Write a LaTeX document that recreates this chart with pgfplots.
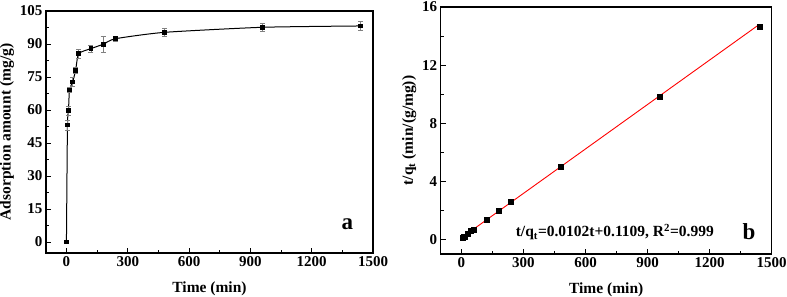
\documentclass[border=0pt]{standalone}
\usepackage{pgfplots}
\pgfplotsset{compat=1.18}
\usepackage{fontspec}
\setmainfont{Liberation Serif}
\begin{document}
\begin{tikzpicture}
\pgfplotsset{
  myax/.style={
    scale only axis,
    font=\fontsize{15.5}{18}\selectfont\bfseries,
    tick label style={font=\fontsize{15}{17}\selectfont\bfseries},
    /pgf/number format/assume math mode=true,
    /pgf/number format/1000 sep={},
    tick align=inside,
    xtick pos=bottom, ytick pos=left,
    major tick length=5pt, minor tick length=3pt,
    axis line style={line width=1.3pt},
    every tick/.style={line width=0.9pt, black},
    xmin=-100, xmax=1500,
    xtick={0,300,600,900,1200,1500},
    minor x tick num=1,
    minor y tick num=1,
    xlabel={Time (min)},
    scaled ticks=false,
    clip=false,
  }
}
% panel a
\begin{axis}[myax,
  at={(46pt,44pt)}, anchor=south west,
  width=327pt, height=242pt,
  ymin=-5, ymax=105,
  ytick={0,15,30,45,60,75,90,105},
  ylabel={Adsorption amount (mg/g)},
  xlabel style={yshift=-8pt},
  ylabel style={yshift=-1pt},
]
\addplot[black, line width=1pt, smooth, tension=0.35, mark=square*, mark size=1.8pt,
  error bars/.cd, y dir=both, y explicit,
  error bar style={gray, line width=0.6pt},
  error mark options={rotate=90, mark size=2.5pt, gray, line width=0.6pt}]
  table[x=t, y=q, y error=e] {
t q e
0 0 0
5 53.1 2.2
10 59.7 2.0
15 69.1 1.2
30 72.7 2.0
45 78.0 1.5
60 85.6 2.2
120 87.9 1.6
180 89.9 3.8
240 92.4 1.2
480 95.3 1.8
960 97.6 1.8
1440 98.2 2.0
};
\node[font=\fontsize{23}{25}\selectfont\bfseries] at (axis cs:1375,8) {a};
\end{axis}
% panel b
\begin{axis}[myax,
  at={(440.7pt,43pt)}, anchor=south west,
  width=331pt, height=247pt,
  ymin=-1, ymax=16,
  ytick={0,4,8,12,16},
  ylabel={t/q$_{\mathbf{t}}$ (min/(g/mg))},
  xlabel style={yshift=-8pt},
  ylabel style={yshift=-1pt},
]
\addplot[red, line width=0.9pt] coordinates {(5,0.162) (1440,14.80)};
\addplot[only marks, black, mark=square*, mark size=2.5pt] table[x=t, y=r] {
t r
5 0.094
10 0.168
15 0.217
30 0.413
45 0.577
60 0.701
120 1.365
180 2.00
240 2.60
480 5.04
960 9.84
1440 14.66
};
\node[font=\fontsize{15.5}{18}\selectfont\bfseries, anchor=west] at (axis cs:246,0.49) {t/q$_{\mathbf{t}}$=0.0102t+0.1109, R$^{\mathbf{2}}$=0.999};
\node[font=\fontsize{23}{25}\selectfont\bfseries] at (axis cs:1390,0.55) {b};
\end{axis}
\pgfresetboundingbox
\useasboundingbox (0pt,0pt) rectangle (787pt,297pt);
\end{tikzpicture}
\end{document}
